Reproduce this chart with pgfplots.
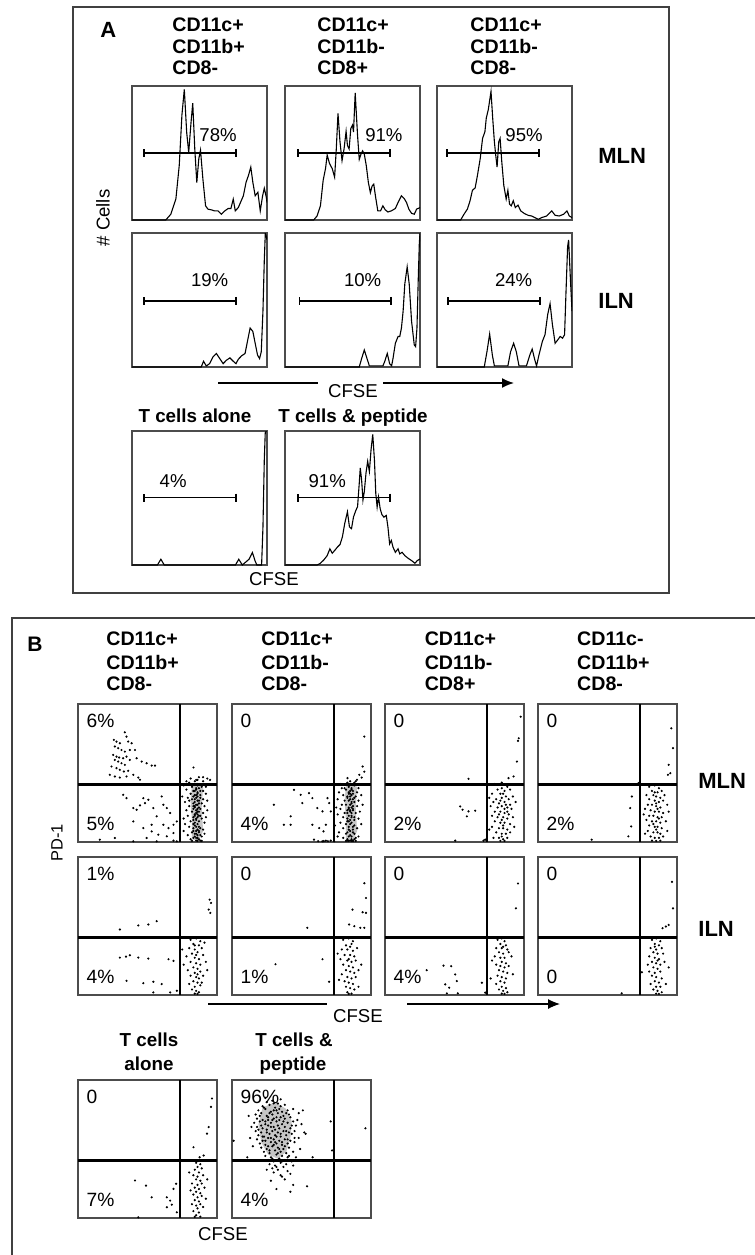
\documentclass[border=0pt]{standalone}
\usepackage{pgfplots}
\pgfplotsset{compat=1.18}
\usetikzlibrary{arrows.meta}
\usepackage{fontspec}
\setmainfont{Liberation Sans}
\newcommand\ft{\fontsize{9.3}{11}\selectfont}
\newcommand\ftt{\fontsize{9.8}{12}\selectfont\bfseries}
\newcommand\fp{\fontsize{9.6}{11}\selectfont}
\newcommand\fpd{\fontsize{8.2}{10}\selectfont}
\newcommand\fl{\fontsize{11}{13}\selectfont\bfseries}
\pgfplotsset{
  hist/.style={width=67.5pt,height=67pt,scale only axis,xmin=0,xmax=100,ymin=0,ymax=100,
    ticks=none,axis line style={draw=black!70,line width=0.55pt},anchor=north west},
  dot/.style={width=69.5pt,height=69pt,scale only axis,xmin=0,xmax=100,ymin=0,ymax=100,
    ticks=none,axis line style={draw=black!70,line width=0.6pt},anchor=north west,clip=true},
  curve/.style={black,line width=0.55pt,mark=none},
  dots/.style={only marks,mark=*,mark size=0.32pt,black},
  core/.style={fill=gray!45,draw=none},
}
\newcommand\gate[3]{\draw[line width=0.85pt,{Bar[width=4pt]}-{Bar[width=4pt]}] (axis cs:#1,#3) -- (axis cs:#2,#3);}
\newcommand\divs{\draw[line width=1.3pt] (axis cs:73.5,0) -- (axis cs:73.5,100);
  \draw[line width=1.3pt] (axis cs:0,41.5) -- (axis cs:100,41.5);}
\newcommand\pl[2]{\node[anchor=base west,font=\fp,inner sep=0pt] at (axis cs:6,83.1) {#1};
  \node[anchor=base west,font=\fp,inner sep=0pt] at (axis cs:6,8.7) {#2};}
\begin{document}
\begin{tikzpicture}
\useasboundingbox (0pt,0pt) rectangle (377.5pt,-627.5pt);
\fill[white] (0pt,0pt) rectangle (377.5pt,-627.5pt);
% ================= PANEL A =================
\draw[line width=0.8pt,black!75] (36.5pt,-3.5pt) rectangle (334.5pt,-296.5pt);
\node[anchor=base west,font=\fl,inner sep=0pt] at (50pt,-18.7pt) {A};
\foreach \x/\a/\b/\c in {86/CD11c+/CD11b+/CD8-,158.5/CD11c+/CD11b-/CD8+,235/CD11c+/CD11b-/CD8-}{
  \node[anchor=base west,font=\ftt,inner sep=0pt] at (\x pt,-15.5pt) {\a};
  \node[anchor=base west,font=\ftt,inner sep=0pt] at (\x pt,-26.5pt) {\b};
  \node[anchor=base west,font=\ftt,inner sep=0pt] at (\x pt,-37pt) {\c};
}
\node[anchor=base west,font=\fl,inner sep=0pt] at (299pt,-81.5pt) {MLN};
\node[anchor=base west,font=\fl,inner sep=0pt] at (299pt,-154pt) {ILN};
\node[rotate=90,font=\ft] at (51.5pt,-109pt) {\# Cells};
\draw[line width=0.8pt] (109pt,-191.5pt) -- (159pt,-191.5pt);
\node[anchor=base,font=\ft,inner sep=0pt] at (176.5pt,-198.5pt) {CFSE};
\draw[line width=0.8pt,-{Latex[length=6pt,width=5pt]}] (191.5pt,-191.5pt) -- (257pt,-191.5pt);
\node[anchor=base,font=\fontsize{9.4}{11}\selectfont\bfseries,inner sep=0pt] at (97.5pt,-211pt) {T cells alone};
\node[anchor=base,font=\fontsize{9.4}{11}\selectfont\bfseries,inner sep=0pt] at (176.5pt,-211pt) {T cells \& peptide};
\node[anchor=base,font=\ft,inner sep=0pt] at (137pt,-292.5pt) {CFSE};

% Row 1 histograms
\begin{axis}[hist,at={(66pt,-43pt)}]
\addplot[curve] coordinates {(0,0)(25,0)(28.75,4.3)(32.5,15.6)(35,40.8)(37,78.6)(38.75,97.5)(40.5,65.5)(42,50.4)(43.75,73.1)(45,87.2)(46.5,53.1)(48,28)(49.5,45.8)(50.75,52.1)(52.5,30.7)(54.5,10.6)(56.25,8.1)(58.75,7.6)(61.25,6.8)(63.75,6.8)(66.25,4.3)(68.75,6.8)(71.25,8.6)(73.25,8.6)(75,15.6)(76.5,6.8)(78.75,9.3)(82.5,18.1)(84.5,28.2)(86.25,33.2)(88,39.5)(89.5,28.2)(91.25,18.1)(93.25,20.7)(95,6.8)(96.75,18.1)(98,23.7)(99.5,16.9)(100,13.1)};
\gate{8}{77.5}{50.1}
\node[font=\ft] at (axis cs:63.75,63.5) {78\%};
\end{axis}
\begin{axis}[hist,at={(142.5pt,-43pt)}]
\addplot[curve] coordinates {(0,0)(21.25,0)(23.75,3)(26.25,10.6)(28.25,29.5)(30,38.3)(31.25,48.4)(33,42.1)(35,38.3)(36.75,32)(38,53.1)(39.25,79.6)(40.75,58.2)(42.25,44.3)(43.75,53.1)(45.25,66.2)(46.25,55.7)(47.5,53.1)(48.75,68.3)(50,70.8)(50.75,65.7)(52,94.9)(53.75,63)(55,45.3)(56.25,49.1)(57.5,51.6)(58.75,49.1)(60.25,40.3)(61.75,28)(63.25,20.4)(64.5,25.4)(65.75,26.7)(67,17.9)(68.75,6.8)(70.75,6.8)(72.5,10.6)(74.25,7.6)(76.25,6)(78.75,6.8)(81.75,8.6)(83.75,13.1)(86.25,18.1)(88.25,16.1)(90,13.1)(91.75,8.1)(93.75,5)(95.75,4.3)(97.5,8.1)(100,9.3)};
\gate{8.75}{78.25}{50.1}
\node[font=\ft] at (axis cs:73.25,63.5) {91\%};
\end{axis}
\begin{axis}[hist,at={(218.5pt,-43pt)}]
\addplot[curve] coordinates {(0,0)(17.5,0)(20,4.3)(22.5,8.1)(24.5,14.4)(26.25,22.2)(28.25,23.9)(30,33.5)(32,45.8)(33.75,60.9)(35.5,65.9)(36.5,76.1)(38,82.4)(40,96)(41.25,76.1)(42.5,58.4)(43.5,48.4)(44.5,39.5)(45.75,58.4)(46.75,60.9)(48,43.3)(49.5,25.7)(51.25,15.6)(52.5,22.2)(53.75,11.8)(55,10.6)(56.5,14.4)(58,9.3)(60,11.1)(62,6.8)(64.5,5)(67.5,3.5)(70,3)(72.5,1.8)(75,0.5)(77.5,1.8)(81.25,3)(85,6.8)(87.5,3.5)(90.5,3)(93.75,4.3)(96.25,6.8)(98,3)(100,1.8)};
\gate{6.75}{76.25}{50.1}
\node[font=\ft] at (axis cs:64.5,63.5) {95\%};
\end{axis}
% Row 2 histograms
\begin{axis}[hist,at={(66pt,-116.5pt)}]
\addplot[curve] coordinates {(0,0)(51.25,0)(53,4.3)(55,0.8)(57.5,2.5)(60,7.6)(62.5,10.1)(65,6.3)(67.5,2.5)(70,5.1)(72.5,6.8)(75,4.3)(77,2.5)(78.75,5.8)(81.25,8.4)(83.75,10.1)(85.5,19)(87.5,29.1)(89.5,26.6)(91.25,17.7)(93,8.9)(94.5,6.3)(95.75,11.4)(97,41.8)(98,79.7)(98.75,100)(99.5,97.5)(100,95)};
\gate{8}{77.5}{49.4}
\node[font=\ft] at (axis cs:57.5,64.6) {19\%};
\end{axis}
\begin{axis}[hist,at={(142.5pt,-116.5pt)}]
\addplot[curve] coordinates {(0,0)(55,0)(56.75,6.3)(58.75,12.7)(60.75,6.3)(62.5,0.8)(72.5,0.8)(73.75,3.8)(75.75,10.1)(77.5,2.5)(79,1)(80,6.3)(81.75,17.7)(83.75,22.8)(85,22.8)(86.25,29.1)(87.5,41.8)(88.75,62)(90.5,74.7)(92,62)(93.75,34.2)(95.75,16.5)(96.75,15.2)(97.75,29.1)(98.75,67.1)(99.5,92.4)(100,100)};
\gate{10}{79.25}{49.4}
\node[font=\ft] at (axis cs:57.5,64.6) {10\%};
\end{axis}
\begin{axis}[hist,at={(218.5pt,-116.5pt)}]
\addplot[curve] coordinates {(0,0)(35,0)(37,11.4)(39,24.6)(41,8.9)(42.5,0.8)(52.5,0.8)(54.5,11.4)(56.75,17.7)(58.75,11.4)(60.75,0.8)(66.25,0.8)(68.75,8.9)(70.5,13.4)(72.5,5.1)(73.75,0.8)(75.5,8.9)(78,19)(80,24.1)(82,39.2)(83.75,47.3)(85.5,31.6)(87.5,17.7)(89.5,20.3)(91.25,22.8)(93,21.5)(94.5,24.1)(95.5,54.4)(96.75,89.9)(97.5,94.9)(98.75,67.1)(100,41.8)};
\gate{7.5}{77}{49.4}
\node[font=\ft] at (axis cs:56.75,64.6) {24\%};
\end{axis}
% Row 3 histograms
\begin{axis}[hist,at={(66pt,-215.5pt)}]
\addplot[curve] coordinates {(0,0)(18.8,0)(21.4,4.3)(23.9,0)(76.6,0)(79.1,4.3)(81.7,0)(86.7,4.3)(89.2,9.3)(91.2,3)(92.5,0)(96,0)(97,28.2)(98,78.5)(98.7,98.7)(99.5,100)};
\gate{8}{77.9}{50.3}
\node[font=\ft] at (axis cs:30.5,62.3) {4\%};
\end{axis}
\begin{axis}[hist,at={(142.5pt,-215.5pt)}]
\addplot[curve] coordinates {(0,0)(23.75,0)(26.25,1.3)(28.75,3.8)(31.25,7)(33.25,12.1)(35,8.8)(36.75,10.8)(38.75,13.3)(40.75,15.3)(42.5,20.9)(44.25,31)(46.25,39.7)(47.75,28.4)(49.25,27.1)(50.75,35.9)(52.5,40.8)(53.75,43.5)(55,61)(55.75,72.4)(56.75,63.6)(57.75,48.5)(58.75,54.8)(60,68.6)(61.25,77.4)(62.5,69.8)(63.75,86.2)(65,97.5)(66.25,78.4)(67.25,53.3)(68.25,43.2)(69.25,50.8)(70.5,42)(71.75,37.7)(73.25,35.7)(75,37)(76.25,28.4)(77.5,15.8)(78.75,18.3)(80,13.3)(81.75,9.5)(83.75,12.1)(85,8.3)(86.75,9.5)(88.75,7)(91.25,5)(93.75,3.3)(96.25,1.3)(98,3.3)(100,4.5)};
\gate{8.75}{78.25}{50.3}
\node[font=\ft] at (axis cs:31.25,62.3) {91\%};
\end{axis}

% ================= PANEL B =================
\draw[line width=0.8pt,black!75] (377.5pt,-309pt) -- (6pt,-309pt) -- (6pt,-627.5pt);
\node[anchor=base west,font=\fontsize{10.5}{12}\selectfont\bfseries,inner sep=0pt] at (13.5pt,-325.5pt) {B};
\foreach \x/\a/\b/\c in {53/CD11c+/CD11b+/CD8-,130.5/CD11c+/CD11b-/CD8-,212.2/CD11c+/CD11b-/CD8+,288.4/CD11c-/CD11b+/CD8-}{
  \node[anchor=base west,font=\ftt,inner sep=0pt] at (\x pt,-322.9pt) {\a};
  \node[anchor=base west,font=\ftt,inner sep=0pt] at (\x pt,-334.5pt) {\b};
  \node[anchor=base west,font=\ftt,inner sep=0pt] at (\x pt,-345pt) {\c};
}
\node[anchor=base west,font=\fl,inner sep=0pt] at (349pt,-394pt) {MLN};
\node[anchor=base west,font=\fl,inner sep=0pt] at (349pt,-468.4pt) {ILN};
\node[rotate=90,font=\fpd] at (28.5pt,-421.5pt) {PD-1};
\draw[line width=0.55pt] (104pt,-502pt) -- (163.5pt,-502pt);
\node[anchor=base,font=\ft,inner sep=0pt] at (179pt,-511pt) {CFSE};
\draw[line width=0.55pt,-{Latex[length=6pt,width=5pt]}] (203.5pt,-502pt) -- (280pt,-502pt);
\node[anchor=base,font=\fontsize{9.4}{11}\selectfont\bfseries,inner sep=0pt] at (74.5pt,-523.3pt) {T cells};
\node[anchor=base,font=\fontsize{9.4}{11}\selectfont\bfseries,inner sep=0pt] at (74.5pt,-535pt) {alone};
\node[anchor=base,font=\fontsize{9.4}{11}\selectfont\bfseries,inner sep=0pt] at (147pt,-523.3pt) {T cells \&};
\node[anchor=base,font=\fontsize{9.4}{11}\selectfont\bfseries,inner sep=0pt] at (146.5pt,-535pt) {peptide};
\node[anchor=base,font=\ft,inner sep=0pt] at (111.5pt,-620pt) {CFSE};

% Row 1 MLN
\begin{axis}[dot,at={(39pt,-352pt)}]
\addplot[core] coordinates {(82,2)(87,1)(90,8)(89,25)(90,40)(86,43)(82,42)(81,30)(82,15)} --cycle;
\addplot[dots] coordinates {(33.7,79.5)(34.9,76.4)(25.8,74)(27.7,72.8)(30.1,71.6)(36.1,72.8)(38.6,71.6)(26.5,69.2)(28.9,68)(31.3,66.7)(33.7,65.5)(37.3,66.7)(41,66.7)(25.3,63.1)(27.7,61.9)(29.6,61.2)(32.5,60.7)(34.9,61.9)(26.5,59.5)(28.9,58.3)(31.3,57.1)(33.7,55.9)(37.3,59.5)(42.2,60.7)(45.8,58.3)(49.4,57.1)(53,55.4)(55.4,55.4)(24.1,54.7)(27.7,53.5)(30.1,52.3)(33,51.1)(36.1,51.6)(39.8,48.7)(43.4,46.7)(22.9,48.7)(26.5,47.5)(30.1,46.7)(34.9,47.5)(44.6,45.1)(83.1,54)
(32.5,34.2)(34.9,31.8)(47,31.8)(50.6,30.6)(39.8,24.6)(42.2,23.4)(44.6,26.5)(48.2,28.2)(54.2,24.6)(60.2,33)(61.4,27)(63.9,24.6)(66.3,21)(56.6,18.6)(53,12.5)(61.4,12.5)(65.1,10.1)(68.7,12.5)(71.1,14.9)(39.8,14.9)(47,10.1)(53,7.7)(57.8,5.3)(49.4,2.9)(63.9,4.1)(68.7,6.5)(26.5,2.9)(15.7,1.7)(68.7,1)(71.1,0.5)(39.8,0.5)(56.6,0.5)
(80,43)(84,44)(87,42)(82,40)(85,39)(89,40)(78,38)(83,37)(86,36)(90,37)(81,35)(84,34)(88,34)(92,35)(79,32)(82,31)(85,32)(87,30)(90,31)(77,29)(83,28)(86,27)(89,28)(91,26)(80,26)(84,25)(88,24)(78,23)(82,22)(85,21)(87,22)(90,21)(93,23)(79,19)(83,18)(86,18)(89,17)(81,15)(84,14)(87,15)(91,14)(77,13)(80,11)(83,10)(85,11)(88,10)(90,9)(82,7)(85,6)(87,7)(79,5)(84,4)(86,3)(89,4)(81,2)(85,1)(88,1)(76,17)(92,18)(75,33)(93,30)(84,29)(86,24)(85,16)(83,13)(86,9)(84,20)(86,33)(83,26)(87,19)(76,8)(91,6)(80,30)(88,37)(82,42)(86,45)(90,44)(78,44)(76,41)(92,40)
(84,42)(86,41)(85,38)(87,39)(84,37)(86,35)(83,33)(85,34)(88,32)(84,31)(86,30)(85,27)(87,28)(84,26)(86,22)(85,23)(83,24)(87,25)(84,19)(86,20)(85,17)(88,19)(83,16)(86,13)(84,12)(87,11)(85,8)(83,8)(87,8)(86,5)(84,6)(88,5)(85,3)(87,2)(83,3)(86,0.8)(82,0.8)(89,0.8)(85,45)(87,47)(90,47)(81,46)(93,46)(95,45)};
\divs \pl{6\%}{5\%}
\end{axis}
\begin{axis}[dot,at={(116pt,-352pt)}]
\addplot[core] coordinates {(82,2)(87,1)(90,8)(89,25)(90,40)(86,42)(82,41)(81,30)(82,15)} --cycle;
\addplot[dots] coordinates {(30.1,27)(37.3,12.5)(42.2,12.5)(44.6,37.8)(49.4,34.2)(50.6,28.2)(55.4,35.4)(57.8,31.8)(61.4,24.6)(57.8,12.5)(62.7,10.1)(65.1,22.2)(65.8,7.7)(67.5,12.5)(68.7,31.8)(69.9,28.2)(71.1,22.2)(42.2,18.6)(59,1.7)(65,0.5)(67.5,1)(71,1)(73.5,0.5)(62,0.6)(66,0.6)(69,0.6)
(95.2,76.4)(94,54.7)(93.3,46.7)(89.9,45.1)(83.1,46.3)(95.2,51)(91.6,48.7)
(78,42)(83,43)(88,41)(81,39)(86,38)(91,39)(77,36)(84,36)(87,35)(80,34)(83,33)(89,33)(93,34)(76,31)(81,30)(85,31)(88,29)(91,30)(79,27)(82,27)(86,28)(90,26)(78,24)(84,24)(87,23)(81,21)(85,22)(89,21)(92,22)(76,20)(80,18)(83,17)(86,19)(88,16)(91,17)(78,14)(82,13)(85,13)(88,12)(80,10)(84,9)(87,9)(90,10)(77,7)(82,6)(85,5)(88,6)(80,3)(83,2)(86,2)(89,3)(84,0.8)(87,0.8)(75,25)(94,27)(74,12)(93,13)(85,35)(84,15)(86,25)(83,21)(87,31)(82,38)(90,36)(79,39)(85,44)(89,44)(76,4)(91,4)
(84,40)(86,39)(85,37)(87,37)(84,35)(86,34)(83,32)(85,33)(88,32)(84,30)(86,29)(85,27)(87,26)(84,25)(86,21)(85,23)(83,23)(87,24)(84,19)(86,18)(85,16)(88,18)(83,15)(86,14)(84,11)(87,11)(85,8)(83,7)(87,7)(86,4)(84,4)(88,2)(85,1)(87,0.8)(83,1)(86,0.8)(82,0.8)(89,0.8)(85,42)(88,43)};
\divs \pl{0}{4\%}
\end{axis}
\begin{axis}[dot,at={(192.5pt,-352pt)}]
\addplot[dots] coordinates {(54.1,25.8)(55.8,23.4)(60.1,22.2)(64.9,22.7)(58.9,18.6)(50.5,1)(70.9,1)(72.1,1.7)
(60.1,45.8)(88.9,46.3)(92.5,47.5)(94.9,58.3)(96.2,75.2)(95.7,73.3)(97.6,90.8)
(79,42)(84,43)(88,40)(81,38)(86,37)(90,38)(77,35)(83,35)(87,33)(80,31)(84,32)(89,31)(92,33)(78,29)(82,28)(86,29)(90,27)(76,26)(81,25)(84,26)(88,25)(91,24)(79,22)(83,22)(86,21)(89,20)(77,19)(81,18)(85,18)(88,17)(92,18)(79,15)(83,14)(86,14)(90,13)(77,11)(82,10)(85,10)(88,9)(80,7)(84,6)(87,6)(90,7)(78,3)(82,3)(85,2)(88,3)(83,0.8)(86,0.8)(75,9)(93,11)(75,32)(94,29)(84,39)(86,24)(84,16)(85,12)(83,30)(87,27)(85,35)(82,20)(88,22)(84,4)};
\divs \pl{0}{2\%}
\end{axis}
\begin{axis}[dot,at={(269pt,-352pt)}]
\addplot[dots] coordinates {(67.5,33)(66.3,24.6)(67,11.3)(38.6,1.7)(65,4.1)
(95.9,82.4)(97.1,68)(94,55.9)(95.2,49.9)(93.5,48.7)(72.3,42.7)
(80,40)(84,41)(87,39)(82,37)(86,36)(89,37)(78,34)(83,34)(85,33)(88,32)(91,34)(80,31)(84,30)(87,29)(90,30)(79,27)(82,27)(85,26)(88,25)(93,27)(77,24)(81,23)(84,22)(87,22)(90,21)(80,19)(83,19)(86,18)(89,18)(78,16)(82,15)(85,15)(88,14)(92,15)(80,12)(84,11)(86,11)(89,10)(79,8)(83,7)(86,7)(88,6)(81,4)(84,3)(87,3)(90,4)(82,1)(85,0.8)(88,1)(76,20)(94,22)(77,6)(93,8)(85,28)(83,13)(86,24)(84,36)(87,17)(85,9)};
\divs \pl{0}{2\%}
\end{axis}
% Row 2 ILN
\begin{axis}[dot,at={(39pt,-428.5pt)}]
\addplot[dots] coordinates {(30.1,27.1)(34.5,27.8)(37.3,28.8)(43.4,27.1)(50.6,26.4)(65.1,25.9)(68.7,24.7)(34.9,10.3)(47,8.6)(54.2,9.6)(60.2,7.9)(66.3,1.9)(54.2,1.9)(71.1,3.1)
(30.1,47.5)(43.4,50.4)(50.6,51.1)(56.6,53.5)(94.7,69.1)(95.2,59.5)(94,61.9)(95.7,66.7)
(81,40)(85,41)(88,39)(83,37)(87,36)(80,34)(84,33)(89,34)(86,31)(82,30)(90,29)(78,28)(84,27)(87,26)(81,24)(85,23)(88,22)(92,24)(83,20)(86,19)(79,18)(84,16)(88,17)(81,14)(85,13)(87,12)(90,14)(83,10)(86,9)(80,8)(84,6)(88,7)(82,4)(85,3)(87,2)(84,1)(86,0.8)(76,22)(93,18)(75,33)(91,38)(89,9)(84,36)(85,29)(86,15)};
\divs \pl{1\%}{4\%}
\end{axis}
\begin{axis}[dot,at={(116pt,-428.5pt)}]
\addplot[dots] coordinates {(31.3,22.3)(65.1,25.9)(54.2,48.7)(69.9,9.6)
(95.2,81)(96.4,70.3)(94,60)(86.7,61.9)(84.3,51.1)(88,49.9)(92.3,48.7)(95.2,48.7)(96.4,59.5)
(80,40)(84,41)(87,39)(82,36)(86,37)(79,33)(83,33)(87,32)(90,34)(81,29)(85,29)(88,28)(78,26)(83,25)(86,24)(89,25)(80,22)(84,21)(87,20)(82,18)(85,17)(88,16)(91,18)(79,15)(83,13)(86,12)(89,13)(81,10)(84,9)(87,8)(82,6)(85,5)(88,4)(83,2)(86,1)(84,0.8)(77,11)(93,22)(76,30)(91,6)(85,35)(84,26)};
\divs \pl{0}{1\%}
\end{axis}
\begin{axis}[dot,at={(192.5pt,-428.5pt)}]
\addplot[dots] coordinates {(30,18)(42.1,21.3)(47.6,20.9)(50.5,14.9)(51.7,10.1)(43.3,7.7)(46.2,5.3)(44.5,1.2)(52.4,1.2)(69.7,8.9)(72.1,1.7)
(95.7,80.8)(94.2,62.8)
(81,40)(84,41)(86,39)(83,37)(87,36)(80,34)(84,34)(88,33)(82,31)(85,30)(89,31)(79,28)(83,27)(86,27)(84,24)(87,23)(80,22)(83,21)(86,20)(89,21)(82,18)(85,17)(88,16)(81,14)(84,13)(87,12)(83,10)(86,9)(80,8)(84,6)(87,5)(82,4)(85,3)(88,2)(84,1)(86,0.8)(77,25)(92,15)(76,12)(91,28)(85,35)};
\divs \pl{0}{4\%}
\end{axis}
\begin{axis}[dot,at={(269pt,-428.5pt)}]
\addplot[dots] coordinates {(60.2,1.2)(74.7,16.5)
(96.4,82)(97.1,62.8)(92,49.6)(89.6,48.4)(94,50.8)
(82,40)(85,41)(88,39)(84,37)(87,36)(81,34)(85,33)(89,34)(83,31)(86,30)(90,30)(80,28)(84,27)(87,26)(82,24)(85,23)(88,22)(91,24)(83,20)(86,19)(80,17)(84,16)(88,17)(82,14)(85,13)(89,12)(84,10)(87,9)(81,8)(85,6)(88,6)(83,4)(86,3)(89,2)(85,1)(87,0.8)(79,22)(94,20)(92,8)(84,35)(86,25)};
\divs \pl{0}{0}
\end{axis}
% Row 3
\begin{axis}[dot,at={(39pt,-540pt)}]
\addplot[dots] coordinates {(96.4,86.6)(95.7,80.5)(94,65.9)(92.8,61.1)(83.1,51.3)(90.4,45.3)(87.5,44)
(41,27.2)(48.9,23.5)(53,15)(63.9,15)(66.3,12.6)(67.5,9.7)(70.6,24.8)(63.9,7.8)(43.4,0.5)(71.1,4.1)(68.7,21.1)
(85,40)(88,39)(86,37)(84,35)(89,36)(87,33)(83,31)(86,30)(90,31)(85,28)(88,27)(82,25)(86,24)(89,25)(84,22)(87,21)(91,22)(85,19)(88,18)(83,17)(86,15)(89,16)(84,13)(87,12)(82,10)(85,9)(88,10)(86,7)(83,5)(87,4)(85,2)(88,1)(84,0.8)(90,8)(81,20)(92,14)(80,33)(93,28)};
\divs \pl{0}{7\%}
\end{axis}
\begin{axis}[dot,at={(116pt,-540pt)}]
\addplot[core] coordinates {(22,80)(31,84)(39,79)(43,70)(42,58)(39,48)(33,43)(26,46)(21,55)(19,68)} --cycle;
\addplot[dots] coordinates {(25,84)(29,85)(33,83)(22,81)(27,82)(31,80)(35,81)(38,82)(19,78)(24,79)(28,77)(32,78)(36,77)(40,78)(44,79)(17,75)(21,76)(25,74)(29,75)(33,76)(37,74)(41,75)(18,72)(22,71)(26,73)(30,72)(34,71)(38,72)(42,73)(47,71)(16,69)(20,70)(24,68)(28,69)(32,70)(36,68)(40,69)(44,70)(18,66)(22,65)(26,67)(30,66)(34,65)(38,66)(42,65)(46,67)(17,63)(21,62)(25,64)(29,63)(33,62)(37,63)(41,62)(45,63)(19,60)(23,59)(27,61)(31,60)(35,59)(39,60)(43,61)(18,57)(22,56)(26,58)(30,57)(34,56)(38,57)(42,56)(48,58)(20,54)(24,53)(28,55)(32,54)(36,53)(40,54)(45,55)(21,51)(25,50)(29,52)(33,51)(37,50)(41,51)(23,48)(27,47)(31,49)(35,48)(39,47)(44,48)(24,45)(28,44)(32,46)(36,45)(40,44)(26,42)(30,41)(34,43)(38,42)(43,41)(27,39)(31,38)(35,40)(39,39)(29,36)(33,35)(37,37)
(23,80)(30,83)(34,79)(20,74)(27,76)(35,73)(39,76)(24,70)(29,71)(33,67)(37,70)(21,67)(25,62)(31,64)(35,61)(39,63)(28,58)(32,59)(36,55)(24,56)(30,53)(34,50)(27,49)(33,47)(29,43)(36,41)(32,37)(19,64)(43,67)(45,58)(22,59)(40,57)(41,45)(26,52)(38,52)(31,55)(28,66)(32,73)(26,71)(30,78)
(12,74)(14,66)(13,58)(15,52)(48,76)(50,68)(52,62)(49,50)(46,44)(44,38)(25,35)(40,34)(30,33)(35,31)(42,32)(38,28)(28,27)(36,30)(44,24)(32,21)(42,19)(54,23)(1.2,56)(11,44)(51,78)(53,61)(58,44)(71,70)(72,49)(96,65)(60,42)(24,87)(35,86)};
\divs \pl{96\%}{4\%}
\end{axis}
\end{tikzpicture}
\end{document}
